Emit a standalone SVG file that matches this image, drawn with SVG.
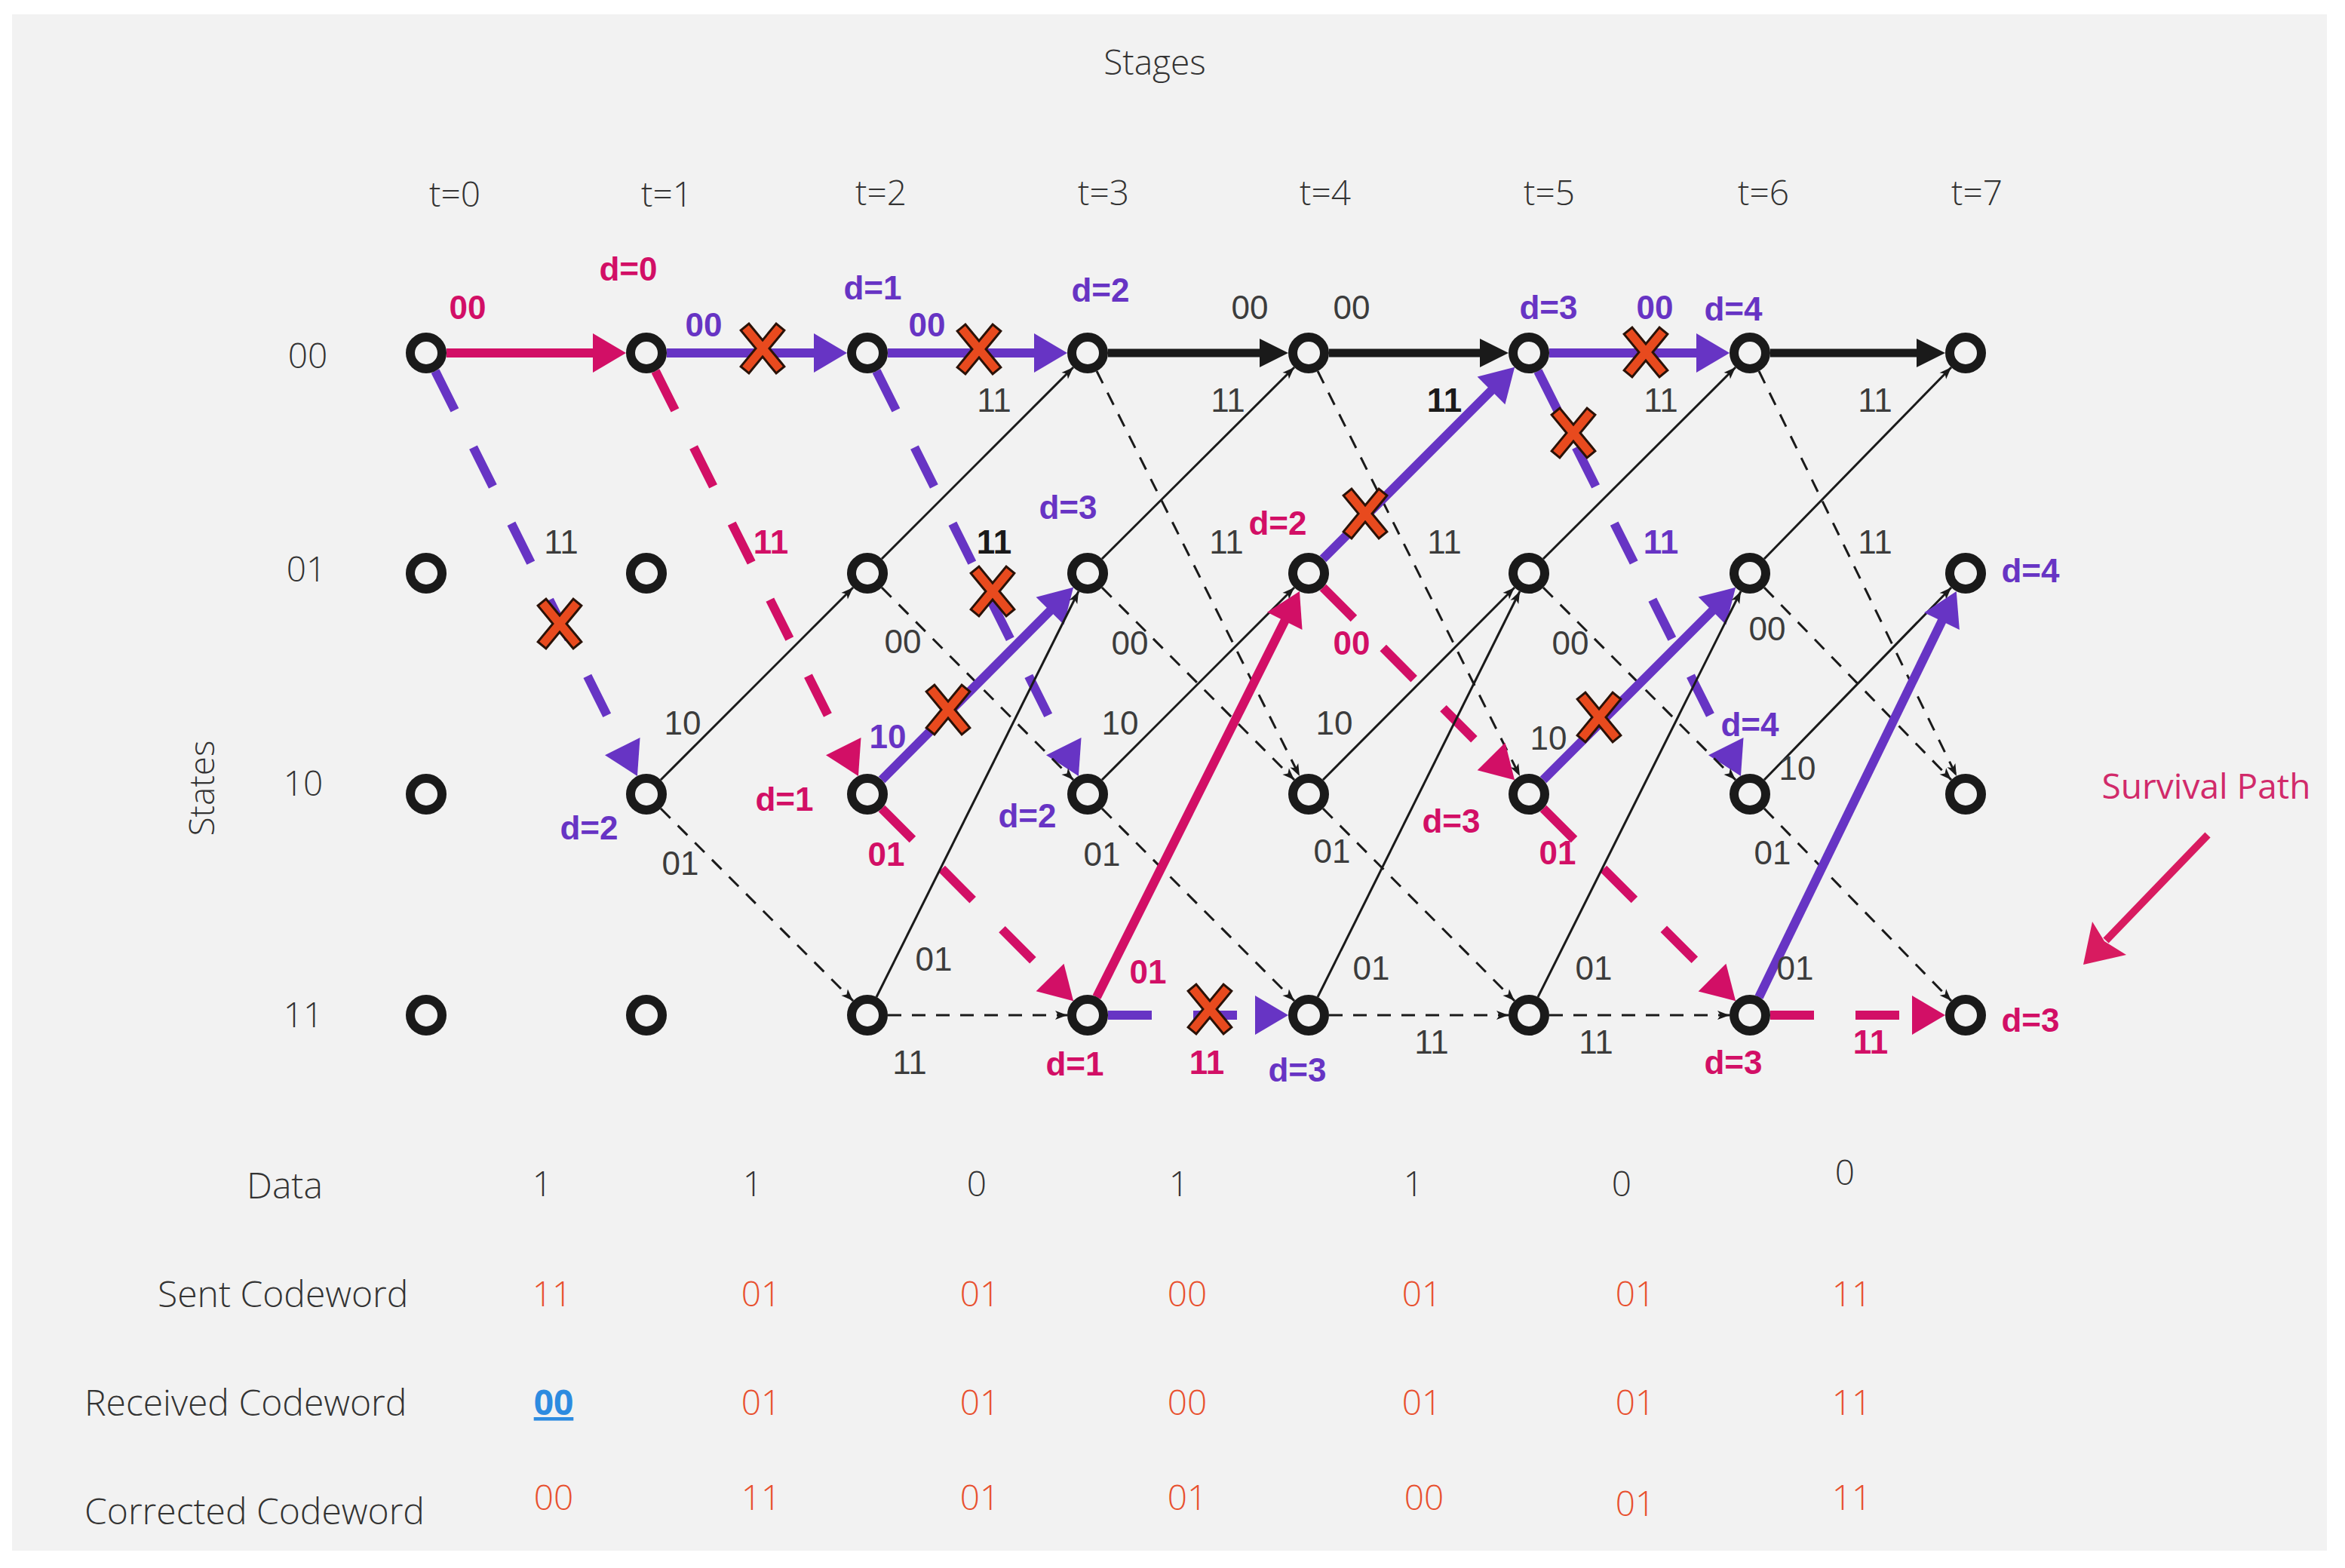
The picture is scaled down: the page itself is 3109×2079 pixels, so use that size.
<svg xmlns="http://www.w3.org/2000/svg" width="3109" height="2079" viewBox="0 0 3109 2079">
<style>
.thin{stroke:#1a1a1a;stroke-width:3;fill:none}
.td{stroke-dasharray:18 14}
.pk{stroke:#d20f66;stroke-width:12;fill:none}
.pu{stroke:#6734c4;stroke-width:12;fill:none}
.bk{stroke:#1a1a1a;stroke-width:11;fill:none}
.dash{stroke-dasharray:58 55}
.node circle{fill:#f2f2f2;stroke:#1a1a1a;stroke-width:12}
.lg{font-family:"Liberation Sans",Arial,sans-serif;font-size:44px;fill:#3c3c3c;text-anchor:middle}
.b{font-weight:bold}
.cpk{fill:#d20f66}
.cpu{fill:#6734c4}
.cbk{fill:#1a1a1a}
.ax{font-family:"Open Sans","Liberation Sans",sans-serif;font-size:46px;font-weight:300;fill:#333333;text-anchor:middle}
.st{text-anchor:start;font-size:48px}
.tv{fill:#e8502e}
</style>
<defs>
<marker id="mPk" markerUnits="userSpaceOnUse" viewBox="-30 -30 60 60" refX="0" refY="0" markerWidth="60" markerHeight="60" orient="auto"><path d="M-24,-26 L20,0 L-24,26 z" fill="#d20f66"/></marker>
<marker id="mPu" markerUnits="userSpaceOnUse" viewBox="-30 -30 60 60" refX="0" refY="0" markerWidth="60" markerHeight="60" orient="auto"><path d="M-24,-26 L20,0 L-24,26 z" fill="#6734c4"/></marker>
<marker id="mBk" markerUnits="userSpaceOnUse" viewBox="-30 -30 60 60" refX="0" refY="0" markerWidth="60" markerHeight="60" orient="auto"><path d="M-18,-19 L20,0 L-18,19 z" fill="#1a1a1a"/></marker>
<marker id="mTh" markerUnits="userSpaceOnUse" viewBox="-20 -10 22 20" refX="0" refY="0" markerWidth="22" markerHeight="20" orient="auto"><path d="M-16,-6 L0,0 L-16,6 L-12,0 z" fill="#1a1a1a"/></marker>
<g id="xm"><path d="M-19,-23 L19,23 M19,-23 L-19,23" stroke="#2a1208" stroke-width="17" stroke-linecap="square" fill="none"/><path d="M-19,-23 L19,23 M19,-23 L-19,23" stroke="#e84a1e" stroke-width="11" stroke-linecap="square" fill="none"/></g>
</defs>
<rect x="0" y="0" width="3109" height="2079" fill="#ffffff"/>
<rect x="16" y="19" width="3069" height="2037" fill="#f2f2f2"/>

<g id="connectors">
<line class="pk" x1="592" y1="468" x2="810" y2="468" marker-end="url(#mPk)"/>
<line class="pu dash" x1="577" y1="492" x2="836" y2="1011" marker-end="url(#mPu)"/>

<line class="pu" x1="884" y1="468" x2="1103" y2="468" marker-end="url(#mPu)"/>
<line class="pk dash" x1="869" y1="492" x2="1129" y2="1011" marker-end="url(#mPk)"/>
<line class="thin" x1="876" y1="1034" x2="1131" y2="779" marker-end="url(#mTh)"/>
<line class="thin td" x1="876" y1="1072" x2="1131" y2="1327" marker-end="url(#mTh)"/>

<line class="pu" x1="1177" y1="468" x2="1395" y2="468" marker-end="url(#mPu)"/>
<line class="pu dash" x1="1162" y1="492" x2="1421" y2="1011" marker-end="url(#mPu)"/>
<line class="thin" x1="1169" y1="741" x2="1423" y2="487" marker-end="url(#mTh)"/>
<line class="thin td" x1="1169" y1="779" x2="1423" y2="1034" marker-end="url(#mTh)"/>
<line class="pu" x1="1169" y1="1034" x2="1409" y2="793" marker-end="url(#mPu)"/>
<line class="pk dash" x1="1169" y1="1072" x2="1409" y2="1313" marker-end="url(#mPk)"/>
<line class="thin" x1="1162" y1="1322" x2="1430" y2="784" marker-end="url(#mTh)"/>
<line class="thin td" x1="1177" y1="1346" x2="1415" y2="1346" marker-end="url(#mTh)"/>

<line class="bk" x1="1469" y1="468" x2="1688" y2="468" marker-end="url(#mBk)"/>
<line class="thin td" x1="1454" y1="492" x2="1723" y2="1029" marker-end="url(#mTh)"/>
<line class="thin" x1="1461" y1="741" x2="1716" y2="487" marker-end="url(#mTh)"/>
<line class="thin td" x1="1461" y1="779" x2="1716" y2="1034" marker-end="url(#mTh)"/>
<line class="thin" x1="1461" y1="1034" x2="1716" y2="779" marker-end="url(#mTh)"/>
<line class="thin td" x1="1461" y1="1072" x2="1716" y2="1327" marker-end="url(#mTh)"/>
<line class="pk" x1="1454" y1="1322" x2="1714" y2="802" marker-end="url(#mPk)"/>
<line class="pu dash" x1="1469" y1="1346" x2="1688" y2="1346" marker-end="url(#mPu)"/>

<line class="bk" x1="1762" y1="468" x2="1980" y2="468" marker-end="url(#mBk)"/>
<line class="thin td" x1="1747" y1="492" x2="2015" y2="1029" marker-end="url(#mTh)"/>
<line class="pu" x1="1754" y1="741" x2="1994" y2="501" marker-end="url(#mPu)"/>
<line class="pk dash" x1="1754" y1="779" x2="1994" y2="1020" marker-end="url(#mPk)"/>
<line class="thin" x1="1754" y1="1034" x2="2008" y2="779" marker-end="url(#mTh)"/>
<line class="thin td" x1="1754" y1="1072" x2="2008" y2="1327" marker-end="url(#mTh)"/>
<line class="thin" x1="1747" y1="1322" x2="2015" y2="784" marker-end="url(#mTh)"/>
<line class="thin td" x1="1762" y1="1346" x2="2000" y2="1346" marker-end="url(#mTh)"/>

<line class="pu" x1="2054" y1="468" x2="2273" y2="468" marker-end="url(#mPu)"/>
<line class="pu dash" x1="2039" y1="492" x2="2299" y2="1011" marker-end="url(#mPu)"/>
<line class="thin" x1="2046" y1="741" x2="2301" y2="487" marker-end="url(#mTh)"/>
<line class="thin td" x1="2046" y1="779" x2="2301" y2="1034" marker-end="url(#mTh)"/>
<line class="pu" x1="2046" y1="1034" x2="2287" y2="793" marker-end="url(#mPu)"/>
<line class="pk dash" x1="2046" y1="1072" x2="2287" y2="1313" marker-end="url(#mPk)"/>
<line class="thin" x1="2039" y1="1322" x2="2308" y2="784" marker-end="url(#mTh)"/>
<line class="thin td" x1="2054" y1="1346" x2="2293" y2="1346" marker-end="url(#mTh)"/>

<line class="bk" x1="2347" y1="468" x2="2559" y2="468" marker-end="url(#mBk)"/>
<line class="thin td" x1="2332" y1="492" x2="2594" y2="1029" marker-end="url(#mTh)"/>
<line class="thin" x1="2339" y1="741" x2="2587" y2="487" marker-end="url(#mTh)"/>
<line class="thin td" x1="2339" y1="779" x2="2587" y2="1034" marker-end="url(#mTh)"/>
<line class="thin" x1="2339" y1="1034" x2="2587" y2="779" marker-end="url(#mTh)"/>
<line class="thin td" x1="2339" y1="1072" x2="2587" y2="1327" marker-end="url(#mTh)"/>
<line class="pu" x1="2332" y1="1322" x2="2585" y2="802" marker-end="url(#mPu)"/>
<line class="pk dash" x1="2347" y1="1346" x2="2559" y2="1346" marker-end="url(#mPk)"/>
</g>

<g id="crosses">
<use href="#xm" x="742" y="827"/>
<use href="#xm" x="1011" y="462"/>
<use href="#xm" x="1298" y="463"/>
<use href="#xm" x="1316" y="784"/>
<use href="#xm" x="1257" y="941"/>
<use href="#xm" x="1810" y="681"/>
<use href="#xm" x="2182" y="467"/>
<use href="#xm" x="2086" y="574"/>
<use href="#xm" x="2120" y="951"/>
<use href="#xm" x="1604" y="1338"/>
</g>

<g id="nodes">
<g id="n0-00" class="node"><circle cx="565" cy="468" r="21"/></g>
<g id="n0-01" class="node"><circle cx="565" cy="760" r="21"/></g>
<g id="n0-10" class="node"><circle cx="565" cy="1053" r="21"/></g>
<g id="n0-11" class="node"><circle cx="565" cy="1346" r="21"/></g>
<g id="n1-00" class="node"><circle cx="857" cy="468" r="21"/></g>
<g id="n1-01" class="node"><circle cx="857" cy="760" r="21"/></g>
<g id="n1-10" class="node"><circle cx="857" cy="1053" r="21"/></g>
<g id="n1-11" class="node"><circle cx="857" cy="1346" r="21"/></g>
<g id="n2-00" class="node"><circle cx="1150" cy="468" r="21"/></g>
<g id="n2-01" class="node"><circle cx="1150" cy="760" r="21"/></g>
<g id="n2-10" class="node"><circle cx="1150" cy="1053" r="21"/></g>
<g id="n2-11" class="node"><circle cx="1150" cy="1346" r="21"/></g>
<g id="n3-00" class="node"><circle cx="1442" cy="468" r="21"/></g>
<g id="n3-01" class="node"><circle cx="1442" cy="760" r="21"/></g>
<g id="n3-10" class="node"><circle cx="1442" cy="1053" r="21"/></g>
<g id="n3-11" class="node"><circle cx="1442" cy="1346" r="21"/></g>
<g id="n4-00" class="node"><circle cx="1735" cy="468" r="21"/></g>
<g id="n4-01" class="node"><circle cx="1735" cy="760" r="21"/></g>
<g id="n4-10" class="node"><circle cx="1735" cy="1053" r="21"/></g>
<g id="n4-11" class="node"><circle cx="1735" cy="1346" r="21"/></g>
<g id="n5-00" class="node"><circle cx="2027" cy="468" r="21"/></g>
<g id="n5-01" class="node"><circle cx="2027" cy="760" r="21"/></g>
<g id="n5-10" class="node"><circle cx="2027" cy="1053" r="21"/></g>
<g id="n5-11" class="node"><circle cx="2027" cy="1346" r="21"/></g>
<g id="n6-00" class="node"><circle cx="2320" cy="468" r="21"/></g>
<g id="n6-01" class="node"><circle cx="2320" cy="760" r="21"/></g>
<g id="n6-10" class="node"><circle cx="2320" cy="1053" r="21"/></g>
<g id="n6-11" class="node"><circle cx="2320" cy="1346" r="21"/></g>
<g id="n7-00" class="node"><circle cx="2606" cy="468" r="21"/></g>
<g id="n7-01" class="node"><circle cx="2606" cy="760" r="21"/></g>
<g id="n7-10" class="node"><circle cx="2606" cy="1053" r="21"/></g>
<g id="n7-11" class="node"><circle cx="2606" cy="1346" r="21"/></g>
</g>

<g id="edge-labels">
<text class="lg" x="744" y="734">11</text>
<text class="lg" x="905" y="974">10</text>
<text class="lg" x="902" y="1160">01</text>
<text class="lg" x="1318" y="546">11</text>
<text class="lg" x="1197" y="866">00</text>
<text class="lg" x="1238" y="1287">01</text>
<text class="lg" x="1206" y="1424">11</text>
<text class="lg" x="1657" y="423">00</text>
<text class="lg" x="1792" y="423">00</text>
<text class="lg" x="1628" y="546">11</text>
<text class="lg" x="1626" y="734">11</text>
<text class="lg" x="1498" y="868">00</text>
<text class="lg" x="1485" y="974">10</text>
<text class="lg" x="1461" y="1148">01</text>
<text class="lg" x="1915" y="734">11</text>
<text class="lg" x="1769" y="974">10</text>
<text class="lg" x="1766" y="1144">01</text>
<text class="lg" x="1818" y="1299">01</text>
<text class="lg" x="1898" y="1397">11</text>
<text class="lg" x="2202" y="546">11</text>
<text class="lg" x="2082" y="868">00</text>
<text class="lg" x="2053" y="994">10</text>
<text class="lg" x="2113" y="1299">01</text>
<text class="lg" x="2116" y="1397">11</text>
<text class="lg" x="2486" y="546">11</text>
<text class="lg" x="2486" y="734">11</text>
<text class="lg" x="2343" y="849">00</text>
<text class="lg" x="2383" y="1034">10</text>
<text class="lg" x="2350" y="1146">01</text>
<text class="lg" x="2380" y="1299">01</text>
<text class="lg b cbk" x="1318" y="734">11</text>
<text class="lg b cbk" x="1915" y="546">11</text>
<text class="lg b cpk" x="620" y="423">00</text>
<text class="lg b cpk" x="1022" y="734">11</text>
<text class="lg b cpk" x="1175" y="1148">01</text>
<text class="lg b cpk" x="1522" y="1304">01</text>
<text class="lg b cpk" x="1600" y="1424">11</text>
<text class="lg b cpk" x="1792" y="868">00</text>
<text class="lg b cpk" x="2065" y="1146">01</text>
<text class="lg b cpk" x="2480" y="1397">11</text>
<text class="lg b cpu" x="933" y="446">00</text>
<text class="lg b cpu" x="1229" y="446">00</text>
<text class="lg b cpu" x="1177" y="992">10</text>
<text class="lg b cpu" x="2194" y="423">00</text>
<text class="lg b cpu" x="2202" y="734">11</text>
</g>

<g id="metric-labels">
<text class="lg b cpk" x="833" y="372">d=0</text>
<text class="lg b cpk" x="1040" y="1075">d=1</text>
<text class="lg b cpk" x="1425" y="1426">d=1</text>
<text class="lg b cpk" x="1694" y="709">d=2</text>
<text class="lg b cpk" x="1924" y="1104">d=3</text>
<text class="lg b cpk" x="2298" y="1424">d=3</text>
<text class="lg b cpk" x="2692" y="1368">d=3</text>
<text class="lg b cpu" x="781" y="1113">d=2</text>
<text class="lg b cpu" x="1157" y="397">d=1</text>
<text class="lg b cpu" x="1362" y="1097">d=2</text>
<text class="lg b cpu" x="1459" y="400">d=2</text>
<text class="lg b cpu" x="1416" y="688">d=3</text>
<text class="lg b cpu" x="1720" y="1434">d=3</text>
<text class="lg b cpu" x="2053" y="423">d=3</text>
<text class="lg b cpu" x="2298" y="425">d=4</text>
<text class="lg b cpu" x="2320" y="976">d=4</text>
<text class="lg b cpu" x="2692" y="772">d=4</text>
</g>

<g id="axes">
<text class="ax" x="1531" y="99">Stages</text>
<text class="ax" x="603" y="274">t=0</text>
<text class="ax" x="884" y="274">t=1</text>
<text class="ax" x="1168" y="272">t=2</text>
<text class="ax" x="1463" y="272">t=3</text>
<text class="ax" x="1757" y="272">t=4</text>
<text class="ax" x="2054" y="272">t=5</text>
<text class="ax" x="2338" y="272">t=6</text>
<text class="ax" x="2621" y="272">t=7</text>
<text class="ax" x="408" y="488">00</text>
<text class="ax" x="406" y="771">01</text>
<text class="ax" x="402" y="1055">10</text>
<text class="ax" x="402" y="1362">11</text>
<text class="ax" transform="translate(284,1045) rotate(-90)" x="0" y="0">States</text>
</g>

<g id="table">
<text class="ax st" x="327" y="1589">Data</text>
<text class="ax st" x="209" y="1733">Sent Codeword</text>
<text class="ax st" x="112" y="1877">Received Codeword</text>
<text class="ax st" x="112" y="2021">Corrected Codeword</text>
<text class="ax" x="719" y="1586">1</text>
<text class="ax" x="998" y="1586">1</text>
<text class="ax" x="1295" y="1586">0</text>
<text class="ax" x="1563" y="1586">1</text>
<text class="ax" x="1874" y="1586">1</text>
<text class="ax" x="2150" y="1586">0</text>
<text class="ax" x="2446" y="1571">0</text>
<text class="ax tv" x="732" y="1732">11</text>
<text class="ax tv" x="1009" y="1732">01</text>
<text class="ax tv" x="1299" y="1732">01</text>
<text class="ax tv" x="1574" y="1732">00</text>
<text class="ax tv" x="1885" y="1732">01</text>
<text class="ax tv" x="2168" y="1732">01</text>
<text class="ax tv" x="2455" y="1732">11</text>
<text class="ax" x="734" y="1876" style="fill:#2d8be0;font-weight:bold" text-decoration="underline">00</text>
<text class="ax tv" x="1009" y="1876">01</text>
<text class="ax tv" x="1299" y="1876">01</text>
<text class="ax tv" x="1574" y="1876">00</text>
<text class="ax tv" x="1885" y="1876">01</text>
<text class="ax tv" x="2168" y="1876">01</text>
<text class="ax tv" x="2455" y="1876">11</text>
<text class="ax tv" x="734" y="2002">00</text>
<text class="ax tv" x="1009" y="2002">11</text>
<text class="ax tv" x="1299" y="2002">01</text>
<text class="ax tv" x="1574" y="2002">01</text>
<text class="ax tv" x="1888" y="2002">00</text>
<text class="ax tv" x="2168" y="2010">01</text>
<text class="ax tv" x="2455" y="2002">11</text>
</g>

<g id="survival">
<text class="ax" x="2925" y="1059" style="fill:#d12a6a;font-weight:normal">Survival Path</text>
<line x1="2927" y1="1107" x2="2792" y2="1247" stroke="#d81b60" stroke-width="10"/>
<path d="M2762,1279 L2774,1222 L2790,1248 L2819,1266 z" fill="#d81b60"/>
</g>
</svg>
